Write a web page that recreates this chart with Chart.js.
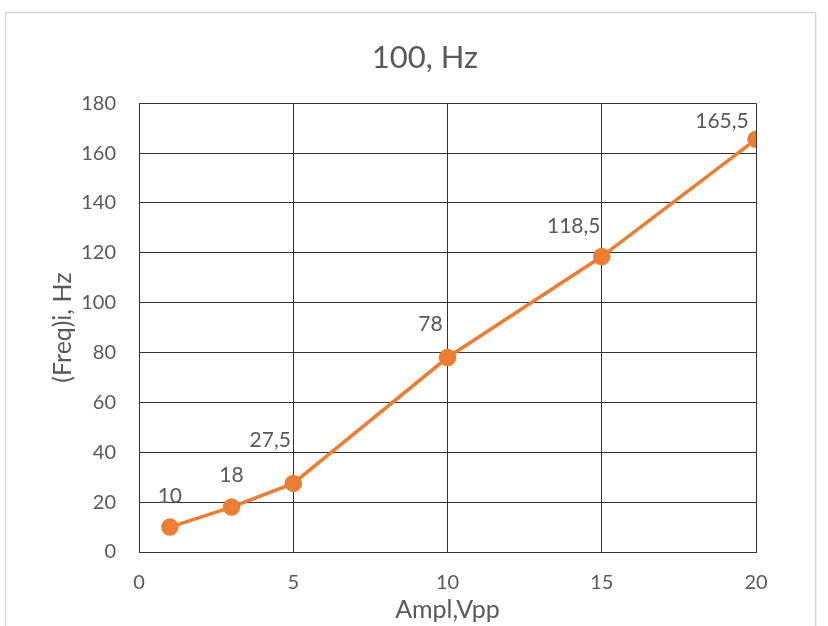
<!DOCTYPE html>
<html>
<head>
<meta charset="utf-8">
<script src="https://cdn.jsdelivr.net/npm/chart.js@4/dist/chart.umd.min.js"></script>
<style>
  html, body { margin: 0; padding: 0; background: #fff; }
  #wrap { width: 828px; height: 626px; position: relative; }
</style>
</head>
<body>
<div id="wrap"><canvas id="lineChart"></canvas></div>
<script>
// donnees
var amplVpp = [1, 3, 5, 10, 15, 20];
var freqHz = [10, 18, 27.5, 78, 118.5, 165.5];
var xTicks = [0, 5, 10, 15, 20];
var yTicks = [0, 20, 40, 60, 80, 100, 120, 140, 160, 180];

var grey = '#595959';
var orange = '#ED7D31';
var fontFam = 'Lato, "Open Sans", sans-serif';

// cadre gris clair autour du graphique, titre recentre sur toute la largeur
var framePlugin = {
  id: 'frame',
  afterLayout: function (chart) {
    if (chart.titleBlock) {
      chart.titleBlock.left = 0;
      chart.titleBlock.right = 850;
    }
  },
  beforeDraw: function (chart) {
    var ctx = chart.ctx;
    ctx.save();
    ctx.fillStyle = '#fff';
    ctx.fillRect(0, 0, chart.width, chart.height);
    ctx.strokeStyle = '#d9d9d9';
    ctx.lineWidth = 1.5;
    ctx.strokeRect(5.5, 12.5, 810, 700);
    ctx.restore();
  }
};

// etiquettes de donnees (virgule decimale)
var labelPlugin = {
  id: 'pointLabels',
  afterDatasetsDraw: function (chart, args, opts) {
    var ctx = chart.ctx;
    var meta = chart.getDatasetMeta(0);
    ctx.save();
    ctx.font = '21px ' + fontFam;
    ctx.fillStyle = grey;
    ctx.textAlign = 'center';
    ctx.textBaseline = 'middle';
    meta.data.forEach(function (pt, i) {
      var txt = String(freqHz[i]).replace('.', ',');
      ctx.fillText(txt, pt.x + opts.dx[i], pt.y + opts.dy[i]);
    });
    ctx.restore();
  }
};

var ctx = document.getElementById('lineChart').getContext('2d');
var lineChart = new Chart(ctx, {
  type: 'scatter',
  data: {
    datasets: [{
      data: amplVpp.map(function (x, i) { return { x: x, y: freqHz[i] }; }),
      showLine: true,
      borderColor: orange,
      backgroundColor: orange,
      borderWidth: 3.5,
      pointRadius: 7,
      pointHoverRadius: 7,
      tension: 0
    }]
  },
  options: {
    responsive: true,
    maintainAspectRatio: false,
    animation: false,
    layout: { padding: { top: 12, right: 72, bottom: 0, left: 0 } },
    plugins: {
      legend: { display: false },
      tooltip: { enabled: false },
      title: {
        display: true,
        text: '100, Hz',
        color: grey,
        font: { family: fontFam, size: 31, weight: 'normal' },
        padding: { top: 27, bottom: 27 }
      },
      pointLabels: {
        dx: [0, 0, -23, -17, -28, -34],
        dy: [-31, -32, -43, -33, -30, -18]
      }
    },
    scales: {
      x: {
        type: 'linear',
        min: 0,
        max: 20,
        afterBuildTicks: function (axis) {
          axis.ticks = xTicks.map(function (v) { return { value: v }; });
        },
        afterFit: function (axis) { axis.height = 74; },
        grid: { color: '#333', lineWidth: 1, drawTicks: false },
        border: { color: '#333', width: 1 },
        ticks: {
          color: grey,
          padding: 19,
          maxRotation: 0,
          font: { family: fontFam, size: 20 }
        },
        title: {
          display: true,
          text: 'Ampl,Vpp',
          color: grey,
          font: { family: fontFam, size: 25 },
          padding: { top: 0, bottom: 1 }
        }
      },
      y: {
        type: 'linear',
        min: 0,
        max: 180,
        afterBuildTicks: function (axis) {
          axis.ticks = yTicks.map(function (v) { return { value: v }; });
        },
        afterFit: function (axis) { axis.width = 139; },
        grid: { color: '#333', lineWidth: 1, drawTicks: false },
        border: { color: '#333', width: 1 },
        ticks: {
          color: grey,
          padding: 23,
          font: { family: fontFam, size: 20 }
        },
        title: {
          display: true,
          text: '(Freq)i, Hz',
          color: grey,
          font: { family: fontFam, size: 25 },
          padding: { top: 48, bottom: 0 }
        }
      }
    }
  },
  plugins: [framePlugin, labelPlugin]
});
</script>
</body>
</html>
